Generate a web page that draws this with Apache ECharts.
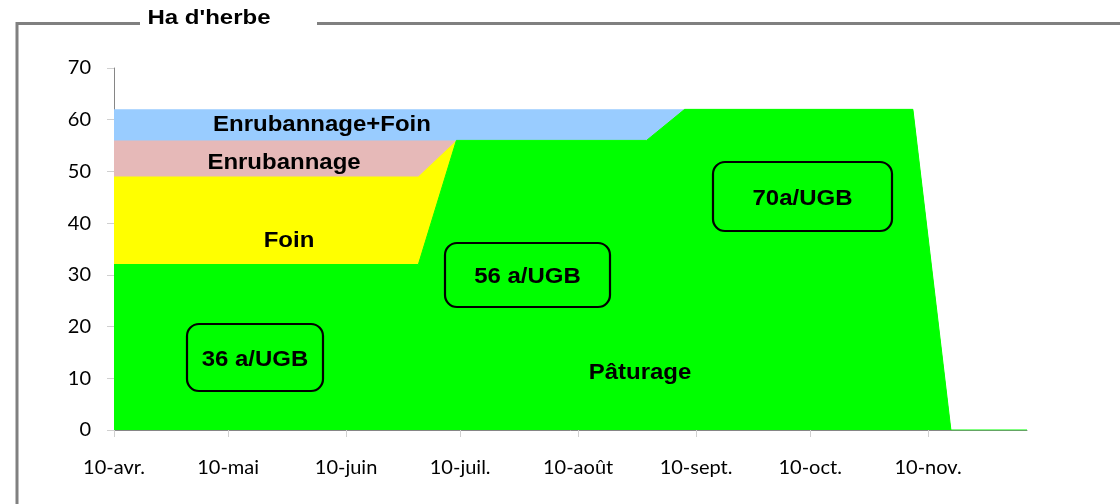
<!DOCTYPE html>
<html>
<head>
<meta charset="utf-8">
<script src="https://cdn.jsdelivr.net/npm/echarts@6/dist/echarts.min.js"></script>
<style>
  html, body { margin: 0; padding: 0; background: #fff; }
  #chart { width: 1120px; height: 504px; }
</style>
</head>
<body>
<div id="chart"></div>
<script>
// jours depuis le 10 avril
const tickDays = [0, 30, 61, 91, 122, 153, 183, 214]
const tickLabels = ['10-avr.', '10-mai', '10-juin', '10-juil.', '10-août', '10-sept.', '10-oct.', '10-nov.']
const days = [0, 80, 90, 140, 150, 210, 220, 240]
const paturage = [32, 32, 56, 56, 62, 62, 0, 0]
const foin = [17, 17, 0, 0, 0, 0, 0, 0]
const enrubannage = [7, 7, 0, 0, 0, 0, 0, 0]
const enrubFoin = [6, 6, 6, 6, 0, 0, 0, 0]

const FONT = 'Liberation Sans'
const AXIS_FONT = 'Lato'

// empilement fait a la main (le stack d'echarts ne marche pas sur un axe value)
function cumul (...lists) {
  return days.map((d, i) => [d, lists.reduce((s, l) => s + l[i], 0)])
}

function area (name, data, color, lineWidth) {
  return {
    name: name,
    type: 'line',
    data: data,
    symbol: 'none',
    silent: true,
    lineStyle: { width: lineWidth, color: color },
    areaStyle: { color: color, opacity: 1, origin: 'start' },
    itemStyle: { color: color }
  }
}

function label (text, x, y) {
  return {
    type: 'text',
    x: x,
    y: y + 2,
    z: 10,
    scaleX: 1.09,
    style: {
      text: text,
      fill: '#000',
      fontFamily: FONT,
      fontWeight: 'bold',
      fontSize: 22,
      align: 'center',
      verticalAlign: 'middle'
    }
  }
}

function box (text, x, y, w, h) {
  return [
    {
      type: 'rect',
      z: 10,
      shape: { x: x, y: y, width: w, height: h, r: 12 },
      style: { fill: 'transparent', stroke: '#000', lineWidth: 2.2 }
    },
    label(text, x + w / 2, y + h / 2)
  ]
}

let myChart = echarts.init(document.getElementById('chart'), null, { renderer: 'canvas' })

let option = {
  animation: false,
  backgroundColor: '#fff',
  grid: {
    left: 114,
    right: 93,
    top: 68,
    bottom: 74
  },
  xAxis: {
    type: 'value',
    min: 0,
    max: 240,
    splitLine: { show: false },
    axisLine: { lineStyle: { color: '#868686', width: 1 } },
    axisTick: {
      show: true,
      length: 7,
      customValues: tickDays,
      lineStyle: { color: '#d0d0d0' }
    },
    axisLabel: {
      customValues: tickDays,
      margin: 28,
      color: '#000',
      fontFamily: AXIS_FONT,
      fontSize: 20,
      formatter: function (v) {
        let i = tickDays.indexOf(v)
        return i >= 0 ? tickLabels[i] : ''
      }
    }
  },
  yAxis: {
    type: 'value',
    min: 0,
    max: 70,
    interval: 10,
    splitLine: { show: false },
    axisLine: { show: true, lineStyle: { color: '#868686', width: 1 } },
    axisTick: { show: true, length: 7, lineStyle: { color: '#d0d0d0' } },
    axisLabel: {
      margin: 23,
      color: '#000',
      fontFamily: AXIS_FONT,
      fontSize: 20
    }
  },
  series: [
    area('Enrubannage+Foin', cumul(paturage, foin, enrubannage, enrubFoin), '#99ccff', 0),
    area('Enrubannage', cumul(paturage, foin, enrubannage), '#e6b9b8', 0),
    area('Foin', cumul(paturage, foin), '#ffff00', 0),
    area('Pâturage', cumul(paturage), '#00ff00', 1)
  ],
  graphic: [
    // cadre
    {
      type: 'polyline',
      shape: { points: [[140, 23.5], [17, 23.5], [17, 520]] },
      style: { stroke: '#808080', lineWidth: 3, fill: null }
    },
    {
      type: 'line',
      shape: { x1: 317, y1: 23.5, x2: 1125, y2: 23.5 },
      style: { stroke: '#808080', lineWidth: 3 }
    },
    {
      type: 'text',
      x: 209,
      y: 18,
      scaleX: 1.2,
      style: {
        text: "Ha d'herbe",
        fill: '#000',
        fontFamily: FONT,
        fontWeight: 'bold',
        fontSize: 20,
        align: 'center',
        verticalAlign: 'middle'
      }
    },
    label('Enrubannage+Foin', 322, 123),
    label('Enrubannage', 284, 161),
    label('Foin', 289, 239),
    label('Pâturage', 640, 371),
    ...box('36 a/UGB', 187, 324, 136, 67),
    ...box('56 a/UGB', 445, 243, 165, 64),
    ...box('70a/UGB', 713, 162, 179, 69)
  ]
}

myChart.setOption(option)
</script>
</body>
</html>
